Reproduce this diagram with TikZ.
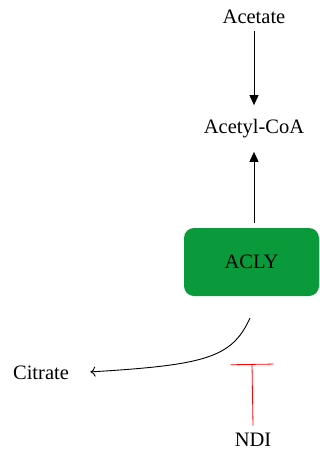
\documentclass[tikz,border=0pt]{standalone}
\usepackage{fontspec}
\setmainfont{Liberation Serif}
\usetikzlibrary{arrows.meta}
\definecolor{aclygreen}{RGB}{10,154,60}
\begin{document}
\begin{tikzpicture}[x=1pt, y=-1pt, font=\fontsize{20.5}{24}\selectfont]
  \useasboundingbox (0, 0) rectangle (320, 456);

  % Metabolites
  \node (acetate) at (254, 17) {Acetate};
  \node (acetylcoa) at (254, 129) {Acetyl-CoA};
  \node (citrate) at (41, 373) {Citrate};
  \node (ndi) at (253, 440) {NDI};

  % Enzyme
  \node[fill=aclygreen, rounded corners=10pt, minimum width=135pt,
        minimum height=68pt] (acly) at (251.5, 262) {ACLY};

  % Conversions
  \draw[-{Triangle[width=9pt, length=10pt]}, line width=0.9pt,
        shorten <=4pt, shorten >=11pt] (acetate) -- (acetylcoa);
  \draw[-{Triangle[width=9pt, length=10pt]}, line width=0.9pt,
        shorten <=5pt, shorten >=10pt] (acly.north -| acetylcoa) -- (acetylcoa);
  \coordinate (cleave) at (250, 318);
  \draw[-{To[length=5pt, width=10pt]}, line width=0.9pt, shorten >=18pt]
    (cleave) .. controls (232, 358) and (205, 365) .. (citrate.east);

  % Inhibition
  \coordinate (block) at (252, 364);
  \draw[red, line width=0.8pt, -{Bar[width=43pt]}] (ndi.north) ++(0, -4) -- (block);
\end{tikzpicture}
\end{document}
